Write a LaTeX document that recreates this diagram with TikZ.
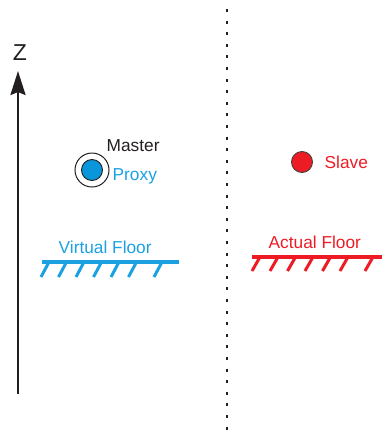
\documentclass[tikz,border=0pt]{standalone}
\usepackage{fontspec}
\setmainfont{Liberation Sans}
\usetikzlibrary{arrows.meta}
\definecolor{ink}{HTML}{231F20}
\definecolor{vblue}{HTML}{1BA1E2}
\definecolor{fblue}{HTML}{0A96DA}
\definecolor{ared}{HTML}{ED1C24}
\tikzset{
  lbl/.style={inner sep=0pt, anchor=base west, font=\fontsize{17.3}{17}\selectfont},
  floorline/.style={line width=3.2pt},
  hatch/.style={line width=3pt},
}
\begin{document}
\begin{tikzpicture}[x=1pt,y=-1pt]
  \useasboundingbox (0,0) rectangle (382,432);

  % vertical z axis
  \coordinate (zbot) at (18,394);
  \coordinate (ztop) at (18,71);
  \draw[ink, line width=2.6pt, -{Stealth[length=24pt,width=15pt,inset=3pt]}] (zbot) -- (ztop);
  \node[inner sep=0pt, anchor=base, font=\fontsize{23}{23}\selectfont, text=ink] (zlabel) at (20,60) {Z};

  % separator between the two sides
  \coordinate (sepTop) at (227,9);
  \coordinate (sepBot) at (227,432);
  \draw[ink, line width=1.6pt, dash pattern=on 3pt off 8.6pt] (sepTop) -- (sepBot);

  % master / proxy
  \node[circle, draw=ink, line width=1pt, minimum size=34pt, inner sep=0pt] (master) at (92,170) {};
  \node[circle, draw=ink, fill=fblue, line width=0.9pt, minimum size=21pt, inner sep=0pt] (proxy) at (92,170) {};
  \node[lbl, text=ink] (masterlbl) at (106.5,151) {Master};
  \node[lbl, text=vblue] (proxylbl) at (112.5,180) {Proxy};

  % slave
  \node[circle, draw=ink!85, fill=ared, line width=0.9pt, minimum size=21pt, inner sep=0pt] (slave) at (302,162) {};
  \node[lbl, text=ared] (slavelbl) at (324.5,168) {Slave};

  % virtual floor
  \node[lbl, text=vblue] (vfloor) at (58.5,253) {Virtual Floor};
  \draw[vblue, floorline] (42,262) -- (179,262);
  \foreach \x in {49,66.5,84,101.5,119,136.5,162}
    \draw[vblue, hatch] (\x,262) -- (\x-8,277);

  % actual floor
  \node[lbl, text=ared] (afloor) at (268.5,248) {Actual Floor};
  \draw[ared, floorline] (252,257) -- (382,257);
  \foreach \x in {260,278,295.5,313,330.5,348,373}
    \draw[ared, hatch] (\x,257) -- (\x-8,271);
\end{tikzpicture}
\end{document}
